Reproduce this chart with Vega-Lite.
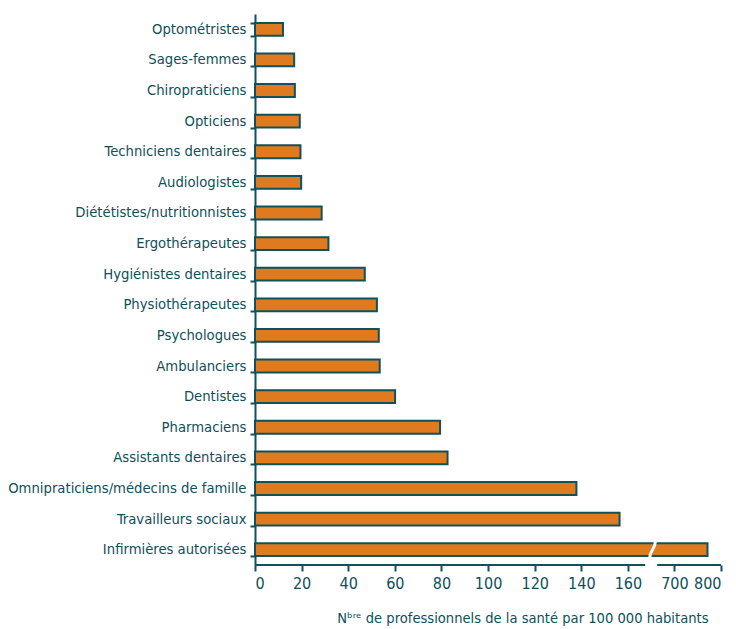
{
  "$schema": "https://vega.github.io/schema/vega-lite/v6.json",
  "width": 466,
  "height": 551,
  "autosize": {"type": "none"},
  "padding": {"left": 255, "top": 14, "right": 15, "bottom": 64},
  "background": "white",
  "config": {"view": {"stroke": null}, "font": "'DejaVu Sans Condensed', 'Liberation Sans', sans-serif"},
  "data": {
    "values": [
      {"profession": "Optométristes", "value": 12},
      {"profession": "Sages-femmes", "value": 16.8},
      {"profession": "Chiropraticiens", "value": 17.1},
      {"profession": "Opticiens", "value": 19.2},
      {"profession": "Techniciens dentaires", "value": 19.5},
      {"profession": "Audiologistes", "value": 19.8},
      {"profession": "Diététistes/nutritionnistes", "value": 28.6},
      {"profession": "Ergothérapeutes", "value": 31.5},
      {"profession": "Hygiénistes dentaires", "value": 47.1},
      {"profession": "Physiothérapeutes", "value": 52.3},
      {"profession": "Psychologues", "value": 53.1},
      {"profession": "Ambulanciers", "value": 53.5},
      {"profession": "Dentistes", "value": 60.1},
      {"profession": "Pharmaciens", "value": 79.4},
      {"profession": "Assistants dentaires", "value": 82.6},
      {"profession": "Omnipraticiens/médecins de famille", "value": 137.9},
      {"profession": "Travailleurs sociaux", "value": 156.4},
      {"profession": "Infirmières autorisées", "value": 771}
    ]
  },
  "layer": [
    {
      "mark": {"type": "bar", "fill": "#df7a1f", "stroke": "#0f525c", "strokeWidth": 2},
      "encoding": {
        "y": {
          "field": "profession",
          "type": "nominal",
          "sort": null,
          "scale": {"paddingInner": 0.58, "paddingOuter": 0.29},
          "axis": {
            "title": null,
            "tickBand": "extent",
            "labelFontSize": 14.7,
            "labelColor": "#0e4f5a",
            "domainColor": "#0f525c",
            "domainWidth": 2,
            "tickColor": "#0f525c",
            "tickWidth": 2,
            "tickSize": 5,
            "labelPadding": 4,
            "labelLimit": 300
          }
        },
        "x": {
          "field": "value",
          "type": "quantitative",
          "scale": {"domain": [0, 167.4, 663, 800], "range": [0, 390.2, 402.2, 466], "nice": false, "zero": false},
          "axis": {
            "values": [0, 20, 40, 60, 80, 100, 120, 140, 160, 700, 800],
            "domain": false,
            "grid": false,
            "tickColor": "#0f525c",
            "tickWidth": 2,
            "tickSize": 6,
            "labelFontSize": 16,
            "labelColor": "#0e4f5a",
            "labelPadding": 4,
            "title": "Nᵇʳᵉ de professionnels de la santé par 100 000 habitants",
            "titleFontSize": 14.6,
            "titleFontWeight": "normal",
            "titleColor": "#0e4f5a",
            "titleX": 453,
            "titleY": 57,
            "titleAlign": "right",
            "titleBaseline": "alphabetic"
          }
        }
      }
    },
    {
      "data": {"values": [{}]},
      "mark": {"type": "rule", "color": "#0f525c", "strokeWidth": 2},
      "encoding": {"x": {"datum": 0}, "x2": {"datum": 167.4}, "y": {"value": "height"}}
    },
    {
      "data": {"values": [{}]},
      "mark": {"type": "rule", "color": "#0f525c", "strokeWidth": 2},
      "encoding": {"x": {"datum": 663}, "x2": {"datum": 800}, "y": {"value": "height"}}
    },
    {
      "data": {"values": [{}]},
      "mark": {"type": "point", "shape": "M0.35,-1 C0.35,-0.1 -0.35,0.1 -0.35,1", "filled": false, "stroke": "white", "strokeWidth": 3, "size": 256, "opacity": 1},
      "encoding": {"x": {"datum": 469}, "y": {"datum": "Infirmières autorisées"}}
    }
  ]
}
